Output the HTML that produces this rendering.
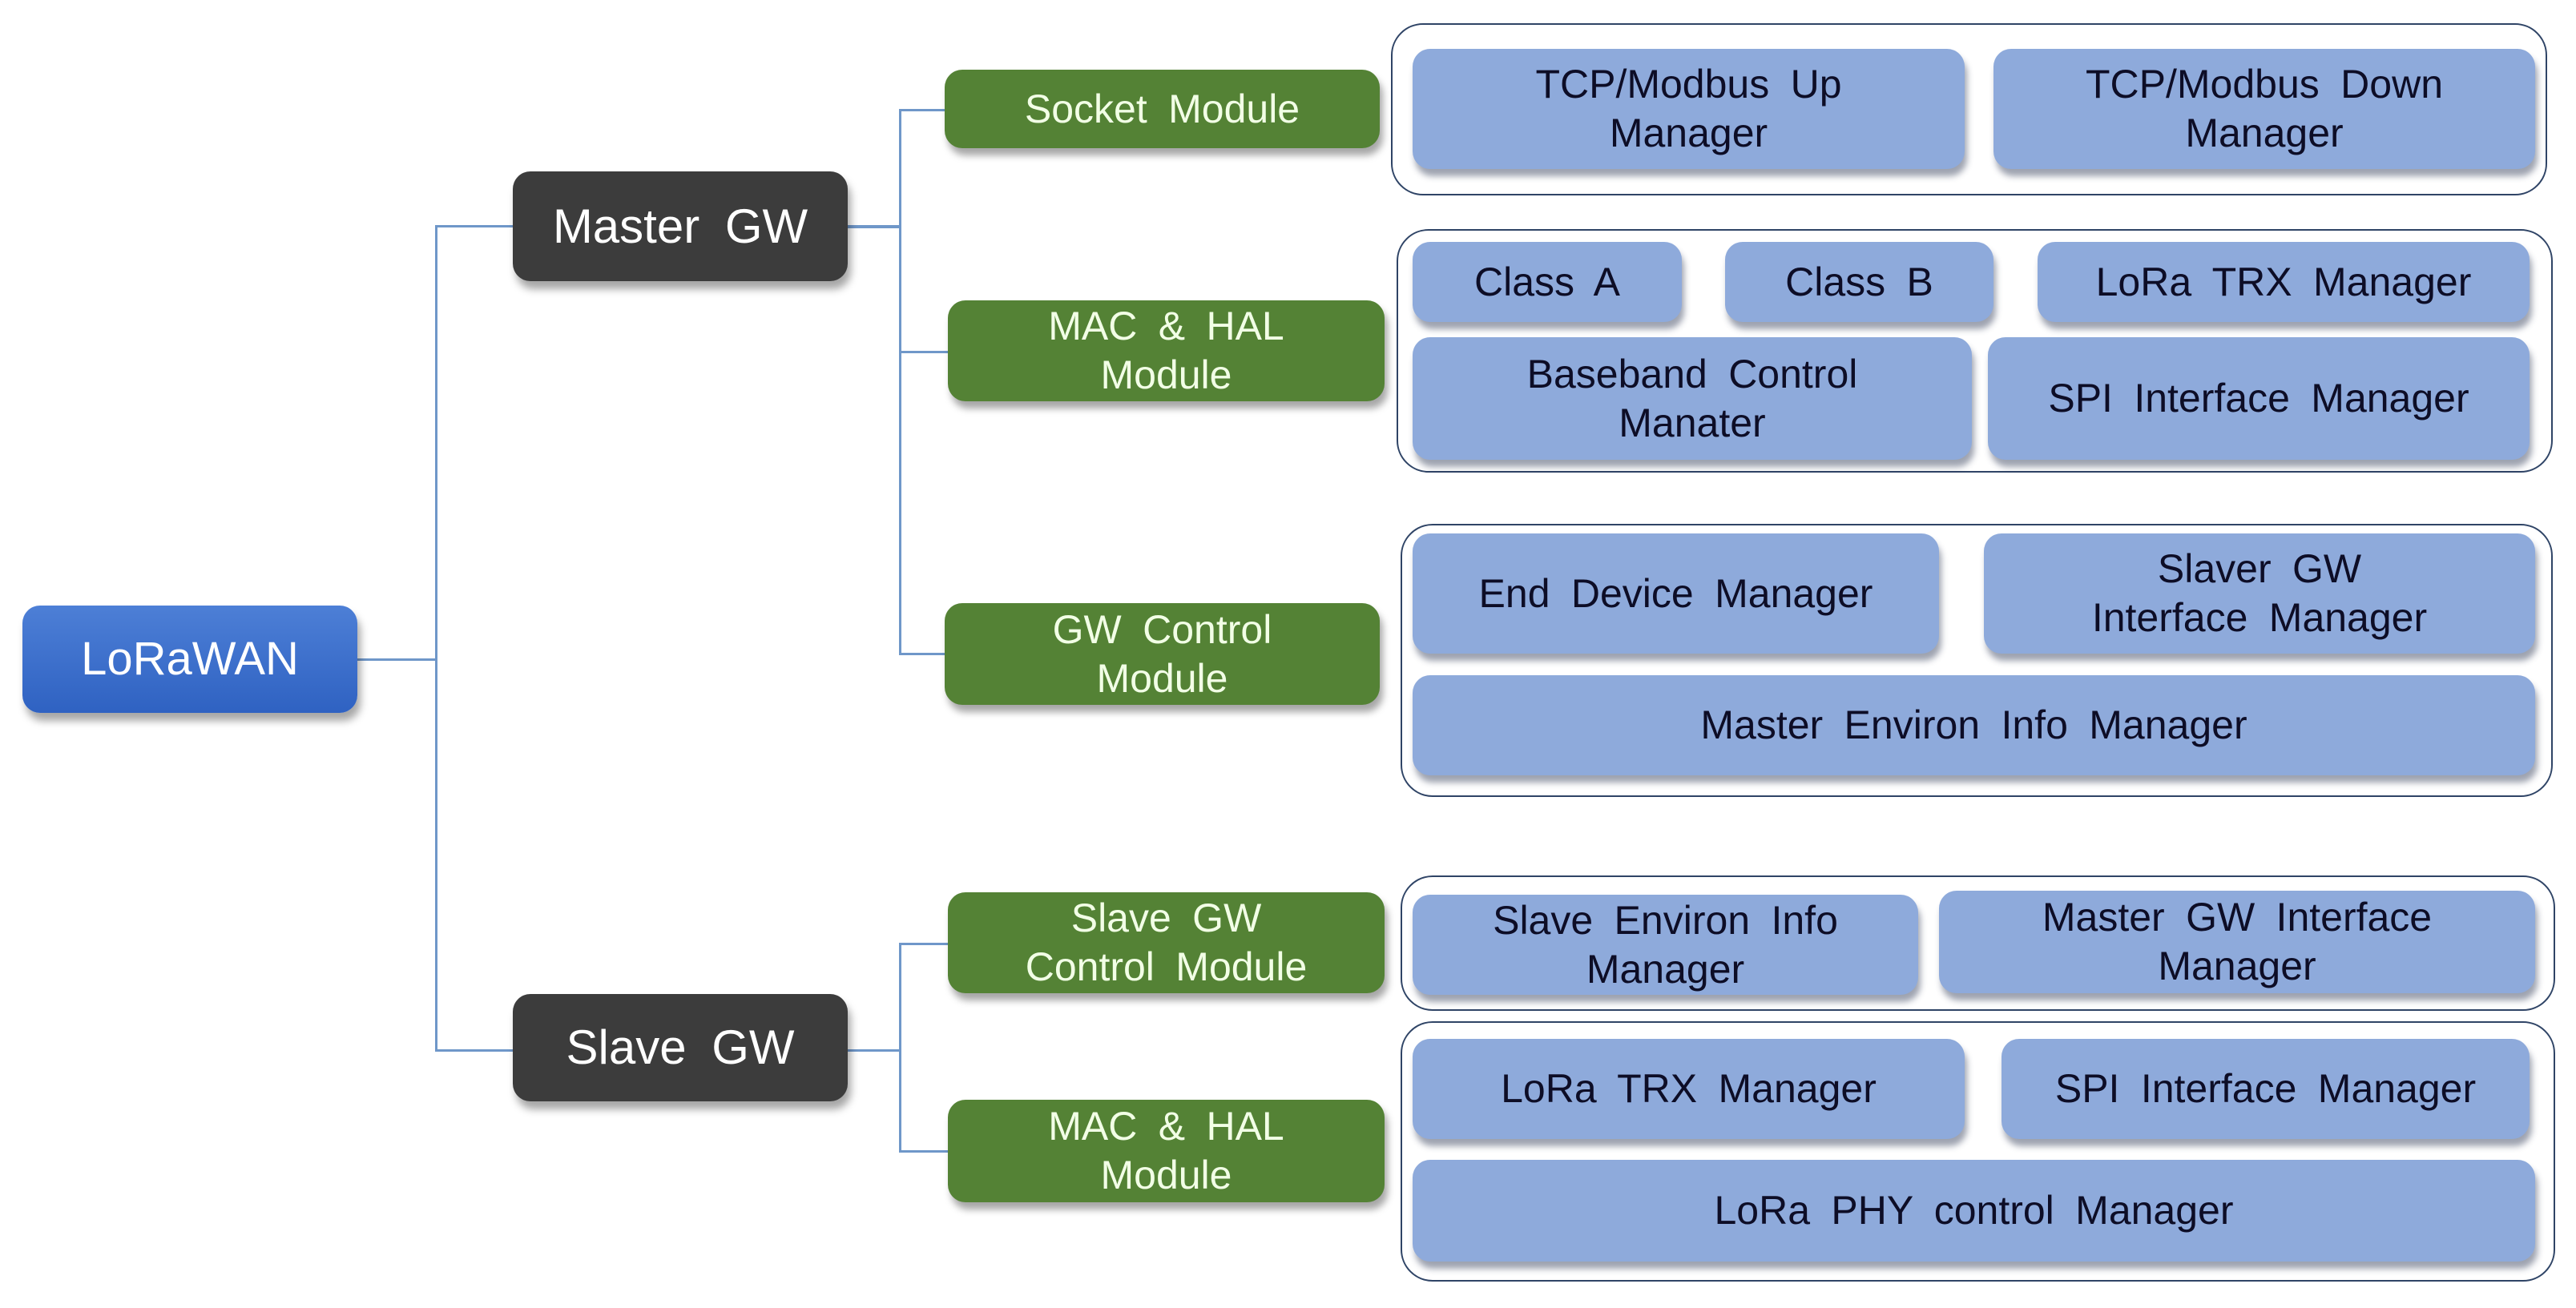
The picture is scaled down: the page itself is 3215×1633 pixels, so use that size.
<!DOCTYPE html>
<html><head><meta charset="utf-8"><style>
body{margin:0;width:3215px;height:1633px;background:#fff;position:relative;overflow:hidden;font-family:"Liberation Sans",sans-serif}
.b{position:absolute;display:flex;align-items:center;justify-content:center;text-align:center;box-sizing:border-box;line-height:1.22;word-spacing:0.25em;border-radius:22px}
.d{background:#3c3c3c;color:#fff;font-size:60px;box-shadow:4px 10px 10px rgba(0,0,0,.35)}
.l{background:linear-gradient(#4d7fd6,#2f62c2);color:#fff;font-size:58px;box-shadow:4px 10px 10px rgba(0,0,0,.35)}
.g{background:#548235;color:#f2ffe6;font-size:50px;box-shadow:4px 9px 9px rgba(0,0,0,.35)}
.c{position:absolute;border:2.5px solid #2f4466;border-radius:40px;box-sizing:border-box;background:#fff}
.p{background:#8eaadb;color:#0d0d26;font-size:50px;box-shadow:3px 9px 8px rgba(40,50,80,.45)}
.ln{position:absolute;background:#6f97c9}
</style></head><body>
<div class="ln" style="left:446px;top:822px;width:98px;height:3px"></div>
<div class="ln" style="left:543px;top:281px;width:3px;height:1032px"></div>
<div class="ln" style="left:543px;top:281px;width:98px;height:3px"></div>
<div class="ln" style="left:543px;top:1310px;width:98px;height:3px"></div>
<div class="ln" style="left:1058px;top:281px;width:66px;height:4px"></div>
<div class="ln" style="left:1122px;top:136px;width:3px;height:681px"></div>
<div class="ln" style="left:1122px;top:136px;width:58px;height:3px"></div>
<div class="ln" style="left:1122px;top:438px;width:62px;height:3px"></div>
<div class="ln" style="left:1122px;top:815px;width:58px;height:3px"></div>
<div class="ln" style="left:1058px;top:1310px;width:66px;height:3px"></div>
<div class="ln" style="left:1122px;top:1177px;width:3px;height:262px"></div>
<div class="ln" style="left:1122px;top:1177px;width:62px;height:3px"></div>
<div class="ln" style="left:1122px;top:1436px;width:62px;height:3px"></div>

<div class="b l" style="left:28px;top:756px;width:418px;height:134px">LoRaWAN</div>
<div class="b d" style="left:640px;top:214px;width:418px;height:137px">Master GW</div>
<div class="b d" style="left:640px;top:1241px;width:418px;height:134px">Slave GW</div>

<div class="b g" style="left:1179px;top:87px;width:543px;height:98px">Socket Module</div>
<div class="b g" style="left:1183px;top:375px;width:545px;height:126px">MAC &amp; HAL<br>Module</div>
<div class="b g" style="left:1179px;top:753px;width:543px;height:127px">GW Control<br>Module</div>
<div class="b g" style="left:1183px;top:1114px;width:545px;height:126px">Slave GW<br>Control Module</div>
<div class="b g" style="left:1183px;top:1373px;width:545px;height:128px">MAC &amp; HAL<br>Module</div>

<div class="c" style="left:1736px;top:29px;width:1443px;height:215px"></div>
<div class="b p" style="left:1763px;top:61px;width:689px;height:150px">TCP/Modbus Up<br>Manager</div>
<div class="b p" style="left:2488px;top:61px;width:676px;height:150px">TCP/Modbus Down<br>Manager</div>

<div class="c" style="left:1743px;top:286px;width:1443px;height:304px"></div>
<div class="b p" style="left:1763px;top:302px;width:336px;height:100px">Class A</div>
<div class="b p" style="left:2153px;top:302px;width:335px;height:100px">Class B</div>
<div class="b p" style="left:2543px;top:302px;width:614px;height:100px">LoRa TRX Manager</div>
<div class="b p" style="left:1763px;top:421px;width:698px;height:153px">Baseband Control<br>Manater</div>
<div class="b p" style="left:2481px;top:421px;width:676px;height:153px">SPI Interface Manager</div>

<div class="c" style="left:1748px;top:654px;width:1438px;height:341px"></div>
<div class="b p" style="left:1763px;top:666px;width:657px;height:150px">End Device Manager</div>
<div class="b p" style="left:2476px;top:666px;width:688px;height:150px">Slaver GW<br>Interface Manager</div>
<div class="b p" style="left:1763px;top:843px;width:1401px;height:125px">Master Environ Info Manager</div>

<div class="c" style="left:1748px;top:1093px;width:1441px;height:169px"></div>
<div class="b p" style="left:1763px;top:1117px;width:631px;height:125px">Slave Environ Info<br>Manager</div>
<div class="b p" style="left:2420px;top:1112px;width:744px;height:128px">Master GW Interface<br>Manager</div>

<div class="c" style="left:1748px;top:1275px;width:1441px;height:325px"></div>
<div class="b p" style="left:1763px;top:1297px;width:689px;height:125px">LoRa TRX Manager</div>
<div class="b p" style="left:2498px;top:1297px;width:659px;height:125px">SPI Interface Manager</div>
<div class="b p" style="left:1763px;top:1448px;width:1401px;height:127px">LoRa PHY control Manager</div>
</body></html>
